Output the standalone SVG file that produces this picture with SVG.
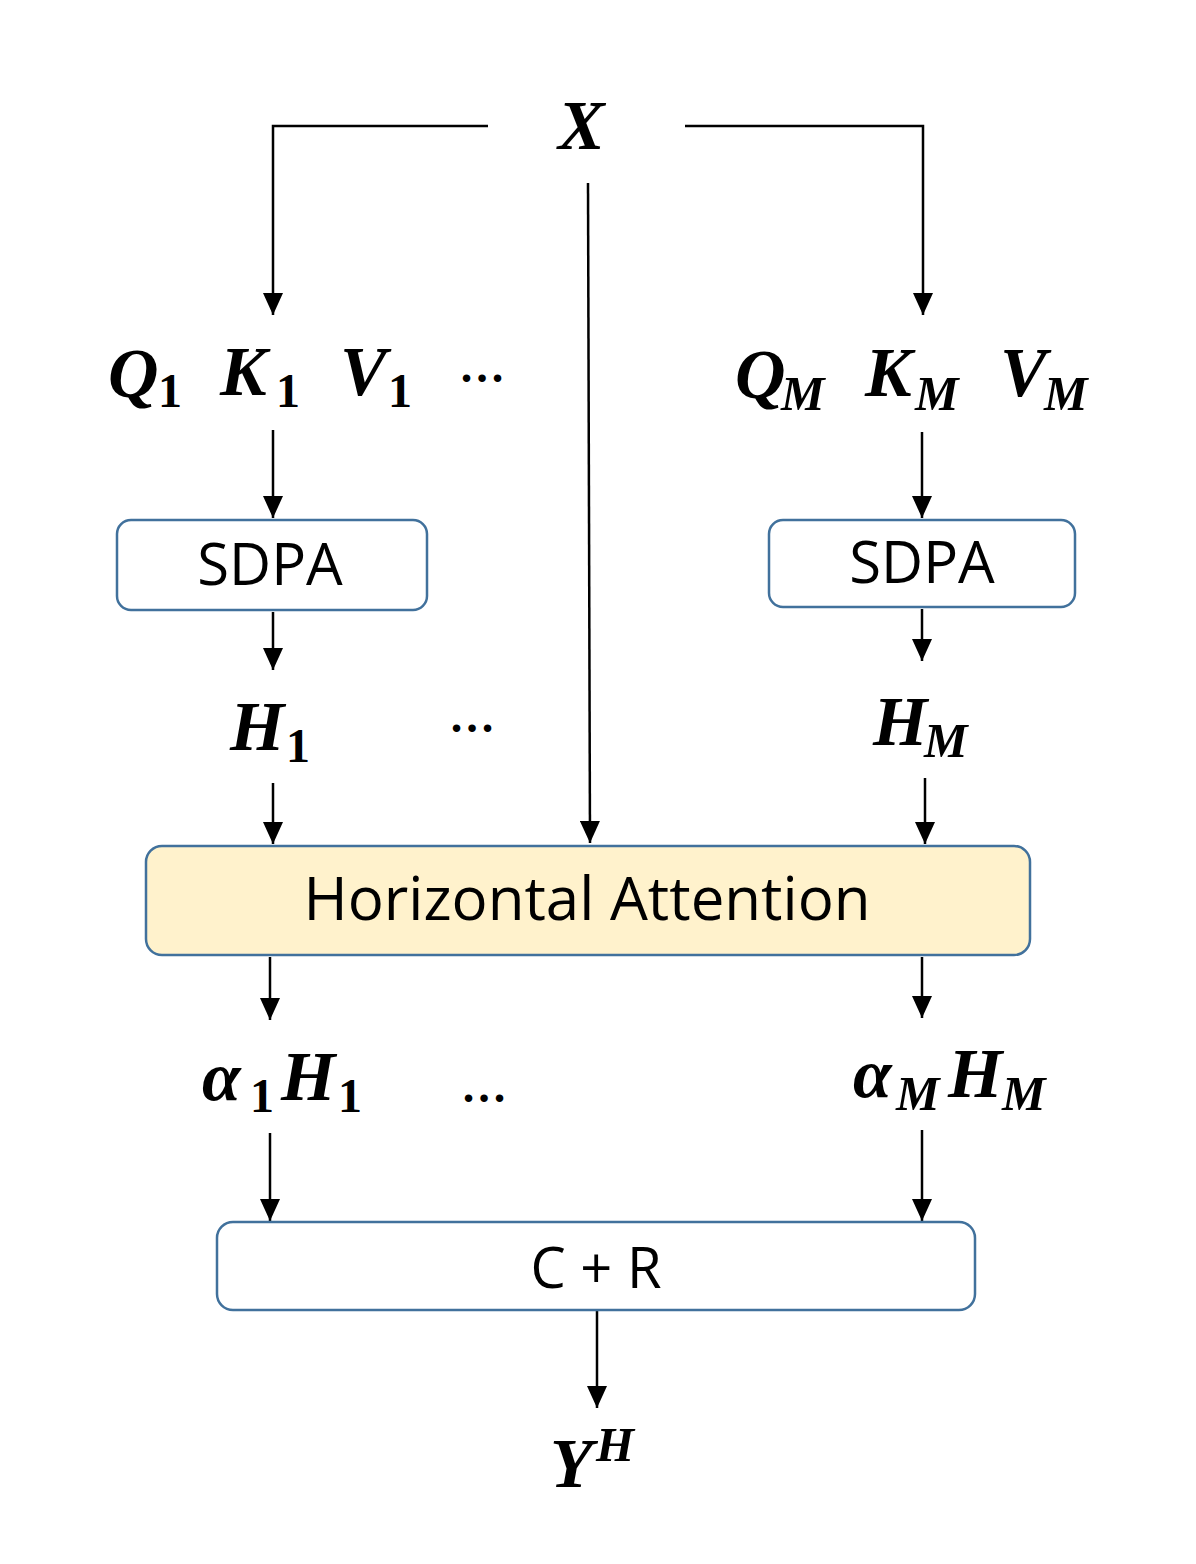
<svg xmlns="http://www.w3.org/2000/svg" width="1196" height="1564" viewBox="0 0 1196 1564">
<style>
.m{font-family:"Liberation Serif","DejaVu Serif",serif;font-weight:bold;font-style:italic;font-size:70px;fill:#000}
.s{font-family:"Liberation Serif","DejaVu Serif",serif;font-weight:bold;font-style:italic;font-size:49px;fill:#000}
.d{font-family:"Liberation Serif","DejaVu Serif",serif;font-weight:bold;font-style:normal;font-size:48px;fill:#000}
.dots{font-family:"Liberation Serif",serif;font-weight:bold;font-size:46px;fill:#000}
.box{fill:#fff;stroke:#41719C;stroke-width:2.5}
.lbl{font-family:"Open Sans","Noto Sans",sans-serif;fill:#000;text-anchor:middle}
.c{fill:none;stroke:#000;stroke-width:2.5}
</style>
<defs>
<marker id="ah" viewBox="0 0 22 20" refX="22" refY="10" markerWidth="22" markerHeight="20" markerUnits="userSpaceOnUse" orient="auto">
<path d="M0,0 L22,10 L0,20 z" fill="#000"/>
</marker>
</defs>
<rect width="1196" height="1564" fill="#fff"/>
<g id="connectors">
<polyline class="c" points="488,126 273,126 273,315" marker-end="url(#ah)"/>
<polyline class="c" points="685,126 923,126 923,315" marker-end="url(#ah)"/>
<line class="c" x1="588" y1="183" x2="590" y2="843" marker-end="url(#ah)"/>
<line class="c" x1="273" y1="430" x2="273" y2="518" marker-end="url(#ah)"/>
<line class="c" x1="273" y1="612" x2="273" y2="670" marker-end="url(#ah)"/>
<line class="c" x1="922" y1="432" x2="922" y2="518" marker-end="url(#ah)"/>
<line class="c" x1="922" y1="609" x2="922" y2="661" marker-end="url(#ah)"/>
<line class="c" x1="273" y1="783" x2="273" y2="844" marker-end="url(#ah)"/>
<line class="c" x1="925" y1="778" x2="925" y2="844" marker-end="url(#ah)"/>
<line class="c" x1="270" y1="957" x2="270" y2="1020" marker-end="url(#ah)"/>
<line class="c" x1="922" y1="957" x2="922" y2="1018" marker-end="url(#ah)"/>
<line class="c" x1="270" y1="1133" x2="270" y2="1221" marker-end="url(#ah)"/>
<line class="c" x1="922" y1="1130" x2="922" y2="1221" marker-end="url(#ah)"/>
<line class="c" x1="597" y1="1311" x2="597" y2="1408" marker-end="url(#ah)"/>
</g>
<g id="X"><text class="m" x="558" y="149">X</text></g>
<g id="QKV1">
<text class="m" x="108" y="397">Q</text><text class="d" x="158" y="407">1</text>
<text class="m" x="220" y="395">K</text><text class="d" x="276" y="407">1</text>
<text class="m" x="340" y="395">V</text><text class="d" x="388" y="407">1</text>
<text class="dots" x="459" y="382">…</text>
</g>
<g id="QKVM">
<text class="m" x="735" y="398">Q</text><text class="s" x="781" y="410">M</text>
<text class="m" x="865" y="396">K</text><text class="s" x="915" y="410">M</text>
<text class="m" x="1000" y="396">V</text><text class="s" x="1044" y="410">M</text>
</g>
<g id="sdpa1"><rect class="box" x="117" y="520" width="310" height="90" rx="14"/><text class="lbl" x="270" y="585" font-size="58">SDPA</text></g>
<g id="sdpaM"><rect class="box" x="769" y="520" width="306" height="87" rx="14"/><text class="lbl" x="922" y="583" font-size="58">SDPA</text></g>
<g id="H1"><text class="m" x="230" y="750">H</text><text class="d" x="286" y="762">1</text></g>
<g id="dots2"><text class="dots" x="449" y="732">…</text></g>
<g id="HM"><text class="m" x="873" y="745">H</text><text class="s" x="924" y="757">M</text></g>
<g id="ha"><rect x="146" y="846" width="884" height="109" rx="16" fill="#FFF2CC" stroke="#41719C" stroke-width="2.5"/><text class="lbl" x="587" y="920" font-size="60">Horizontal Attention</text></g>
<g id="a1H1"><text class="m" x="202" y="1100">α</text><text class="d" x="250" y="1112">1</text><text class="m" x="281" y="1100">H</text><text class="d" x="338" y="1112">1</text></g>
<g id="dots3"><text class="dots" x="461" y="1102">…</text></g>
<g id="aMHM"><text class="m" x="853" y="1097">α</text><text class="s" x="896" y="1110">M</text><text class="m" x="948" y="1097">H</text><text class="s" x="1002" y="1110">M</text></g>
<g id="cr"><rect class="box" x="217" y="1222" width="758" height="88" rx="16"/><text class="lbl" x="596" y="1288" font-size="56">C + R</text></g>
<g id="YH"><text class="m" x="550" y="1487">Y</text><text class="s" x="596" y="1461">H</text></g>
</svg>
